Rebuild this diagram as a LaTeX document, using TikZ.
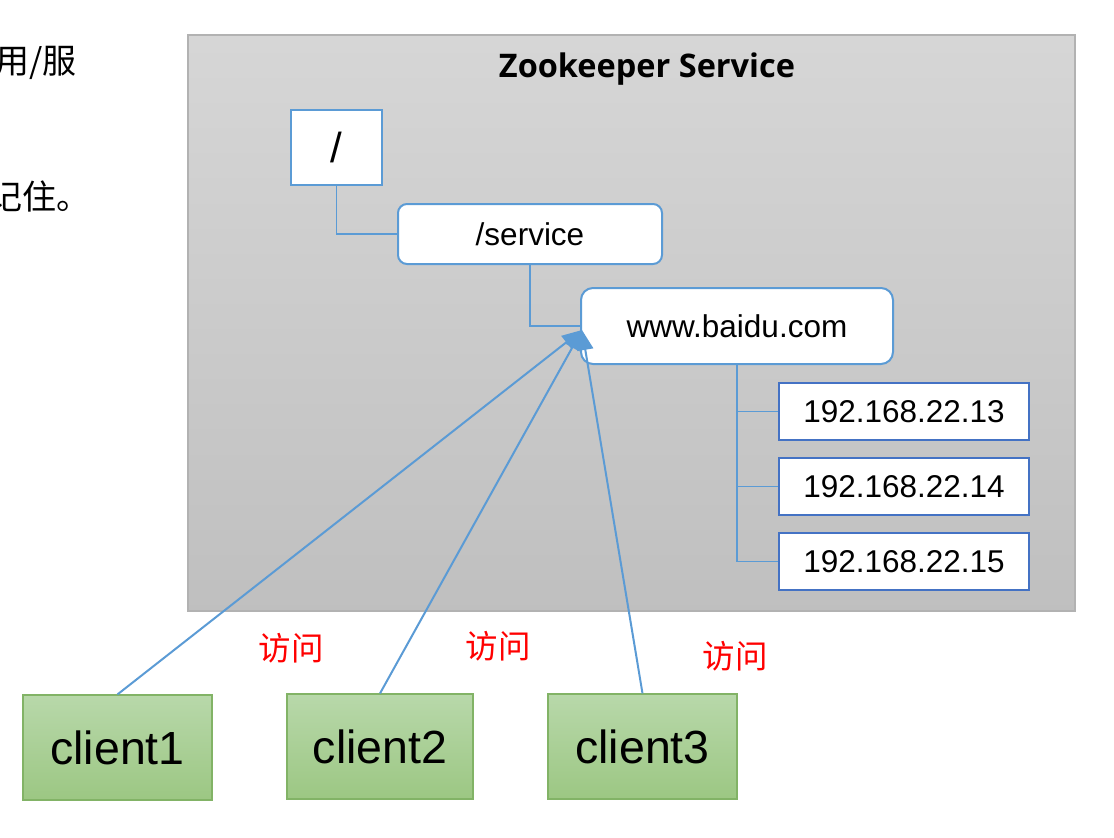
\documentclass[tikz,border=0pt]{standalone}
\usepackage{fontspec}
\setmainfont{Liberation Sans}
\newfontfamily\cjkfont{Noto Sans CJK SC}
\newfontfamily\titlefont{Open Sans}
\usetikzlibrary{arrows.meta}

\definecolor{linkblue}{HTML}{5B9BD5}
\definecolor{ipblue}{HTML}{4472C4}
\definecolor{clientgreen}{HTML}{82B366}
\definecolor{clienttop}{HTML}{B8D8AA}
\definecolor{clientbottom}{HTML}{9CC783}

\tikzset{
  treeline/.style={draw=linkblue, line width=1.5pt},
  znode/.style={draw=linkblue, line width=2pt, fill=white, inner sep=0pt,
    font=\fontsize{31.5}{36}\selectfont},
  ipnode/.style={draw=ipblue, line width=2.4pt, fill=white, inner sep=0pt,
    minimum width=250pt, minimum height=57pt, font=\fontsize{31.5}{36}\selectfont},
  clientnode/.style={draw=clientgreen, line width=1.2pt, top color=clienttop,
    bottom color=clientbottom, inner sep=0pt, minimum width=189pt,
    minimum height=105pt, font=\fontsize{46.5}{52}\selectfont},
  visit/.style={linkblue, line width=2pt, -{Triangle[length=20pt,width=16pt]}},
  visitlabel/.style={text=red, font=\cjkfont\fontsize{32.5}{38}\selectfont}
}

\begin{document}
\begin{tikzpicture}[x=1pt,y=-1pt]
\useasboundingbox (0,0) rectangle (1114,838);

% cut-off text on the left
\node[anchor=east, font=\cjkfont\fontsize{34}{40}\selectfont, inner sep=0pt] (note1) at (77,63) {用/服};
\node[anchor=east, font=\cjkfont\fontsize{34}{40}\selectfont, inner sep=0pt] (note2) at (91,196) {记住。};

% service area
\shade[top color=gray!32, bottom color=gray!50, draw=gray!60, line width=1.2pt]
  (188,35) rectangle (1075,611);
\node[font=\titlefont\bfseries\fontsize{32.5}{38}\selectfont] (title) at (647,69) {Zookeeper Service};

% tree of znodes
\node[znode, minimum width=91pt, minimum height=75pt, font=\fontsize{42}{48}\selectfont] (root) at (336.5,147.5) {/};
\node[znode, rounded corners=9pt, minimum width=264pt, minimum height=60pt] (service) at (530,234) {/service};
\node[znode, rounded corners=12pt, minimum width=312pt, minimum height=76pt] (www) at (737,326) {www.baidu.com};
\node[ipnode] (ip1) at (904,411.5) {192.168.22.13};
\node[ipnode] (ip2) at (904,486.5) {192.168.22.14};
\node[ipnode] (ip3) at (904,561.5) {192.168.22.15};

\draw[treeline] (root.south) |- (service.west);
\draw[treeline] (service.south) |- (www.west);
\draw[treeline] (www.south) |- (ip3.west);
\draw[treeline] (www.south |- ip1.west) -- (ip1.west);
\draw[treeline] (www.south |- ip2.west) -- (ip2.west);

% clients
\node[clientnode] (client1) at (117.5,747.5) {client1};
\node[clientnode, minimum width=186pt] (client2) at (380,746.5) {client2};
\node[clientnode] (client3) at (642.5,746.5) {client3};

\coordinate (target) at ([xshift=2pt,yshift=-4pt]www.west);
\draw[visit] (client1.north) -- (target);
\draw[visit] (client2.north) -- (target);
\draw[visit] (client3.north) -- (target);

\node[visitlabel] (v1) at (291,648) {访问};
\node[visitlabel] (v2) at (498,646) {访问};
\node[visitlabel] (v3) at (735,656) {访问};
\end{tikzpicture}
\end{document}
